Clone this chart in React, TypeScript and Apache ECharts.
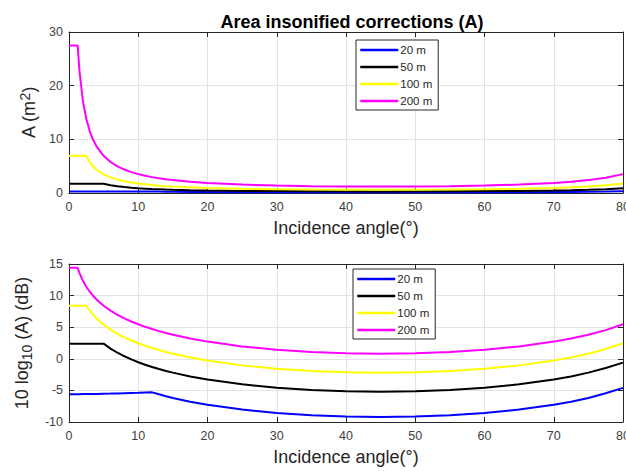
import React, { useEffect, useRef } from "react";
import * as echarts from "echarts";

const TITLE = "Area insonified corrections (A)";
const X_NAME = "Incidence angle(°)";
const Y_NAME_TOP = "A (m{sup|2})";
const Y_NAME_BOTTOM = "10 log{sub|10} (A) (dB)";
const SERIES_NAMES = ["20 m", "50 m", "100 m", "200 m"];
const SERIES_COLORS = ["#0000ff", "#000000", "#ffff00", "#ff00ff"];

const ANGLES = [0, 0.5, 1, 1.25, 1.5, 2, 2.5, 3, 3.5, 4, 5, 6, 7, 8, 9, 10, 11, 12, 13, 14, 15, 17.5, 20, 25, 30, 35, 40, 45, 50, 55, 60, 65, 70, 72.5, 75, 77.5, 80];

// Linear area A (m^2)
const A_20 = [0.275, 0.275, 0.275, 0.276, 0.276, 0.277, 0.277, 0.277, 0.278, 0.279, 0.28, 0.281, 0.283, 0.285, 0.287, 0.289, 0.292, 0.294, 0.274, 0.256, 0.24, 0.209, 0.187, 0.157, 0.139, 0.128, 0.122, 0.12, 0.122, 0.128, 0.139, 0.157, 0.187, 0.209, 0.24, 0.284, 0.347];
const A_50 = [1.74, 1.74, 1.74, 1.74, 1.74, 1.74, 1.74, 1.74, 1.74, 1.74, 1.74, 1.45, 1.25, 1.1, 0.98, 0.88, 0.81, 0.74, 0.69, 0.64, 0.6, 0.53, 0.47, 0.39, 0.35, 0.32, 0.31, 0.3, 0.31, 0.32, 0.35, 0.39, 0.47, 0.53, 0.6, 0.71, 0.88];
const A_100 = [6.92, 6.92, 6.92, 6.92, 6.92, 6.92, 6.92, 5.77, 4.94, 4.33, 3.47, 2.9, 2.49, 2.19, 1.95, 1.76, 1.61, 1.48, 1.37, 1.28, 1.21, 1.05, 0.94, 0.79, 0.7, 0.64, 0.61, 0.6, 0.61, 0.64, 0.7, 0.79, 0.94, 1.05, 1.21, 1.43, 1.76];
const A_200 = [27.5, 27.5, 27.5, 27.5, 22.9, 17.2, 13.8, 11.5, 9.86, 8.63, 6.92, 5.78, 4.97, 4.37, 3.89, 3.52, 3.21, 2.96, 2.74, 2.56, 2.4, 2.09, 1.87, 1.57, 1.39, 1.28, 1.22, 1.2, 1.22, 1.28, 1.39, 1.57, 1.87, 2.09, 2.4, 2.84, 3.52];

// 10 log10(A) (dB)
const DB_20 = [-5.6, -5.6, -5.6, -5.59, -5.59, -5.58, -5.58, -5.57, -5.56, -5.55, -5.53, -5.51, -5.48, -5.45, -5.42, -5.39, -5.35, -5.31, -5.62, -5.92, -6.19, -6.79, -7.28, -8.04, -8.58, -8.93, -9.13, -9.2, -9.13, -8.93, -8.58, -8.04, -7.28, -6.79, -6.19, -5.46, -4.6];
const DB_50 = [2.4, 2.4, 2.4, 2.4, 2.4, 2.4, 2.4, 2.4, 2.4, 2.4, 2.4, 1.62, 0.96, 0.4, -0.1, -0.54, -0.94, -1.29, -1.62, -1.92, -2.19, -2.79, -3.28, -4.04, -4.58, -4.93, -5.13, -5.2, -5.13, -4.93, -4.58, -4.04, -3.28, -2.79, -2.19, -1.46, -0.6];
const DB_100 = [8.4, 8.4, 8.4, 8.4, 8.4, 8.4, 8.4, 7.61, 6.94, 6.36, 5.4, 4.62, 3.96, 3.4, 2.9, 2.46, 2.06, 1.71, 1.38, 1.08, 0.81, 0.21, -0.28, -1.04, -1.58, -1.93, -2.13, -2.2, -2.13, -1.93, -1.58, -1.04, -0.28, 0.21, 0.81, 1.54, 2.46];
const DB_200 = [14.4, 14.4, 14.4, 14.4, 13.6, 12.36, 11.4, 10.61, 9.94, 9.36, 8.4, 7.62, 6.96, 6.4, 5.9, 5.46, 5.06, 4.71, 4.38, 4.08, 3.81, 3.21, 2.72, 1.96, 1.42, 1.07, 0.87, 0.8, 0.87, 1.07, 1.42, 1.96, 2.72, 3.21, 3.81, 4.54, 5.46];

const X_MIN = 0, X_MAX = 80, X_STEP = 10;
const Y_TOP_MIN = 0, Y_TOP_MAX = 30, Y_TOP_STEP = 10;
const Y_BOT_MIN = -10, Y_BOT_MAX = 15, Y_BOT_STEP = 5;

const FONT = "'Liberation Sans', Arial, Helvetica, sans-serif";
const AX = "#262626";

export default function App() {
  const ref = useRef<HTMLDivElement>(null);
  useEffect(() => {
    if (!ref.current) return;
    const chart = echarts.init(ref.current, null, { renderer: "svg" });
    const zip = (ys: number[]) => ANGLES.map((x, i) => [x, ys[i]]);
    const topData = [A_20, A_50, A_100, A_200];
    const botData = [DB_20, DB_50, DB_100, DB_200];

    const grids = [
      { left: 69, top: 32, width: 554, height: 161, outerBoundsMode: "none", containLabel: false },
      { left: 69, top: 264, width: 554, height: 158, outerBoundsMode: "none", containLabel: false },
    ];

    const nameStyle = {
      fontFamily: FONT,
      fontSize: 18,
      color: AX,
      rich: {
        sup: { fontFamily: FONT, fontSize: 14, color: AX, verticalAlign: "bottom", padding: [0, 0, 9, 0] },
        sub: { fontFamily: FONT, fontSize: 14, color: AX, verticalAlign: "top", padding: [11, 0, 0, 0] },
      },
    };

    const mkX = (gridIndex: number, main: boolean, gap: number) => ({
      type: "value",
      gridIndex,
      min: X_MIN,
      max: X_MAX,
      interval: X_STEP,
      position: main ? "bottom" : "top",
      name: main ? X_NAME : "",
      nameLocation: "middle",
      nameGap: gap,
      nameTextStyle: { fontFamily: FONT, fontSize: 18, color: AX },
      axisLine: { show: true, onZero: false, lineStyle: { color: AX, width: 1 } },
      axisTick: { show: true, inside: true, length: 5, lineStyle: { color: AX } },
      axisLabel: { show: main, margin: 7, fontFamily: FONT, fontSize: 12.5, color: "#404040", alignMaxLabel: "center", alignMinLabel: "center" },
      splitLine: { show: main, lineStyle: { color: "#e3e3e3", width: 1 } },
    });
    const mkY = (gridIndex: number, main: boolean, min: number, max: number, step: number, name: string, gap: number) => ({
      type: "value",
      gridIndex,
      min,
      max,
      interval: step,
      position: main ? "left" : "right",
      name: main ? name : "",
      nameLocation: "middle",
      nameGap: gap,
      nameTextStyle: nameStyle,
      axisLine: { show: true, onZero: false, lineStyle: { color: AX, width: 1 } },
      axisTick: { show: true, inside: true, length: 5, lineStyle: { color: AX } },
      axisLabel: { show: main, margin: 6, fontFamily: FONT, fontSize: 12.5, color: "#404040" },
      splitLine: { show: main, lineStyle: { color: "#e3e3e3", width: 1 } },
    });

    const mkLegend = (left: number, top: number) => ({
      left,
      top,
      orient: "vertical",
      data: SERIES_NAMES,
      borderColor: AX,
      borderWidth: 1,
      backgroundColor: "#ffffff",
      padding: [4, 6, 3, 3],
      itemGap: 5,
      itemWidth: 38,
      itemHeight: 12,
      selectedMode: false,
      itemStyle: { opacity: 0, borderWidth: 0 },
      lineStyle: { width: 2.5 },
      textStyle: { fontFamily: FONT, fontSize: 11.5, color: AX, padding: [0, 0, 0, -3] },
    });

    const series: any[] = [];
    SERIES_NAMES.forEach((name, i) => {
      series.push({
        type: "line",
        name,
        xAxisIndex: 0,
        yAxisIndex: 0,
        data: zip(topData[i]),
        showSymbol: false,
        symbol: "none",
        color: SERIES_COLORS[i],
        lineStyle: { color: SERIES_COLORS[i], width: 2 },
      });
    });
    SERIES_NAMES.forEach((name, i) => {
      series.push({
        type: "line",
        name,
        xAxisIndex: 2,
        yAxisIndex: 2,
        data: zip(botData[i]),
        showSymbol: false,
        symbol: "none",
        color: SERIES_COLORS[i],
        lineStyle: { color: SERIES_COLORS[i], width: 2 },
      });
    });

    chart.setOption({
      animation: false,
      backgroundColor: "#ffffff",
      title: {
        text: TITLE,
        left: 347,
        top: 8,
        textAlign: "center",
        textStyle: { fontFamily: FONT, fontSize: 18, fontWeight: "bold", color: "#000" },
      },
      grid: grids,
      xAxis: [mkX(0, true, 26), mkX(0, false, 0), mkX(1, true, 26), mkX(1, false, 0)],
      yAxis: [
        mkY(0, true, Y_TOP_MIN, Y_TOP_MAX, Y_TOP_STEP, Y_NAME_TOP, 23),
        mkY(0, false, Y_TOP_MIN, Y_TOP_MAX, Y_TOP_STEP, "", 0),
        mkY(1, true, Y_BOT_MIN, Y_BOT_MAX, Y_BOT_STEP, Y_NAME_BOTTOM, 33),
        mkY(1, false, Y_BOT_MIN, Y_BOT_MAX, Y_BOT_STEP, "", 0),
      ],
      legend: [mkLegend(356, 40), mkLegend(353, 269)],
      series,
    });
    return () => chart.dispose();
  }, []);
  return (
    <div
      ref={ref}
      style={{ position: "fixed", left: 0, top: 0, width: 626, height: 471, background: "#fff" }}
    />
  );
}
